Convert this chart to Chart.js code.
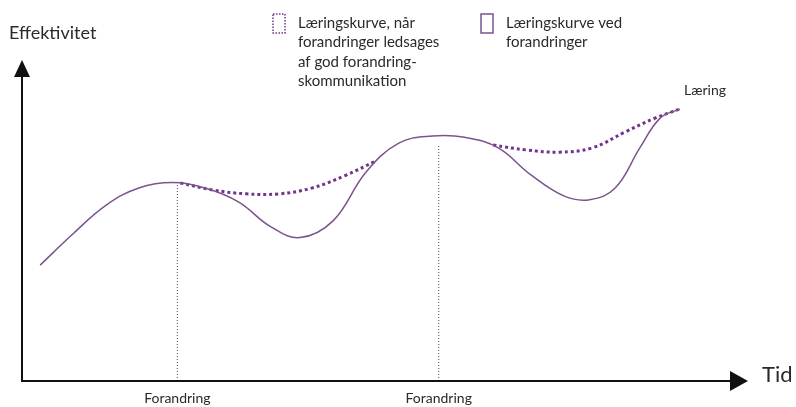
<!DOCTYPE html>
<html>
<head>
<meta charset="utf-8">
<script src="https://cdn.jsdelivr.net/npm/chart.js@4.4.0/dist/chart.umd.min.js"></script>
<style>
  html, body { margin: 0; padding: 0; background: #fff; }
  #wrap { width: 796px; height: 407px; position: relative; }
</style>
</head>
<body>
<div id="wrap"><canvas id="laeringChart"></canvas></div>
<script>
// tid (0-100) og effektivitet (0-100)
var solidX = [2.5, 7.0, 11.6, 16.1, 20.7, 25.2, 29.8, 34.3, 38.3, 42.8, 47.4, 51.9, 56.5, 61.0, 65.6, 70.1, 74.7, 78.2, 81.7, 85.1, 87.9, 90.6];
var solidY = [36.1, 45.8, 54.8, 60.1, 61.8, 60.1, 55.8, 48.0, 44.7, 49.8, 65.1, 74.1, 76.3, 75.9, 72.6, 64.2, 57.6, 56.5, 60.1, 72.6, 81.9, 84.7];

var dotted1X = [21.8, 26.3, 30.9, 35.4, 39.9, 44.5, 48.8];
var dotted1Y = [61.7, 59.5, 58.3, 58.3, 60.1, 64.0, 68.6];

var dotted2X = [64.9, 69.4, 74.0, 78.5, 83.1, 87.2, 90.6];
var dotted2Y = [73.5, 72.0, 71.3, 72.6, 77.6, 81.9, 84.7];

var changeX = [21.4, 57.4];
var changeTop = [61.7, 73.5];
var changeLabel = 'Forandring';

var legendGood = ['Læringskurve, når', 'forandringer ledsages', 'af god forandring-', 'skommunikation'];
var legendPlain = ['Læringskurve ved', 'forandringer'];

function toPoints(xs, ys) {
  var pts = [];
  for (var i in xs) {
    pts.push({ x: xs[i], y: ys[i] });
  }
  return pts;
}

var solidColor = "rgb(122, 84, 142)";
var dotColor = "rgb(112, 52, 140)";
var textColor = "#2a2a2a";
var fontFam = "Lato, 'Open Sans', sans-serif";

var datasets = [];
for (var i in changeX) {
  datasets.push({
    label: changeLabel,
    data: [{ x: changeX[i], y: 0 }, { x: changeX[i], y: changeTop[i] }],
    borderColor: "rgb(90, 70, 100)",
    borderWidth: 1,
    borderDash: [1, 2],
    pointRadius: 0,
    showLine: true,
    tension: 0
  });
}
datasets.push({
  label: 'Læringskurve ved forandringer',
  data: toPoints(solidX, solidY),
  borderColor: solidColor,
  borderWidth: 1.5,
  pointRadius: 0,
  showLine: true,
  tension: 0.4
});
datasets.push({
  label: 'Læringskurve, når forandringer ledsages af god forandringskommunikation',
  data: toPoints(dotted1X, dotted1Y),
  borderColor: dotColor,
  borderWidth: 3,
  borderDash: [3, 3],
  borderCapStyle: 'butt',
  pointRadius: 0,
  showLine: true,
  tension: 0.4
});
datasets.push({
  label: 'Læringskurve, når forandringer ledsages af god forandringskommunikation',
  data: toPoints(dotted2X, dotted2Y),
  borderColor: dotColor,
  borderWidth: 3,
  borderDash: [3, 3],
  borderCapStyle: 'butt',
  pointRadius: 0,
  showLine: true,
  tension: 0.4
});

// akser med pile, tekster og forklaring
var diagramDecor = {
  id: 'diagramDecor',
  afterDraw: function (chart) {
    var ctx = chart.ctx;
    var a = chart.chartArea;
    ctx.save();
    ctx.strokeStyle = "#111";
    ctx.fillStyle = "#111";
    ctx.lineWidth = 2;
    // y-akse
    ctx.beginPath();
    ctx.moveTo(a.left, a.bottom + 1);
    ctx.lineTo(a.left, a.top + 12);
    ctx.stroke();
    ctx.beginPath();
    ctx.moveTo(a.left, a.top);
    ctx.lineTo(a.left - 8, a.top + 17);
    ctx.lineTo(a.left + 8, a.top + 17);
    ctx.closePath();
    ctx.fill();
    // x-akse
    ctx.beginPath();
    ctx.moveTo(a.left - 1, a.bottom);
    ctx.lineTo(a.right - 12, a.bottom);
    ctx.stroke();
    ctx.beginPath();
    ctx.moveTo(a.right, a.bottom);
    ctx.lineTo(a.right - 18, a.bottom - 10);
    ctx.lineTo(a.right - 18, a.bottom + 10);
    ctx.closePath();
    ctx.fill();

    ctx.fillStyle = textColor;
    ctx.textBaseline = 'middle';
    ctx.textAlign = 'left';
    ctx.font = "18px " + fontFam;
    ctx.fillText('Effektivitet', 9, 33);
    ctx.font = "22px " + fontFam;
    ctx.fillText('Tid', 762, 375);
    ctx.font = "14px " + fontFam;
    ctx.fillText('Læring', 684, 90);

    // forklaring
    ctx.font = "15px " + fontFam;
    for (var i in legendGood) {
      ctx.fillText(legendGood[i], 298, 23 + i * 19.5);
    }
    for (var j in legendPlain) {
      ctx.fillText(legendPlain[j], 506, 23 + j * 19.5);
    }
    ctx.lineWidth = 1.5;
    ctx.setLineDash([1.5, 1.5]);
    ctx.strokeStyle = dotColor;
    ctx.strokeRect(273, 14, 12, 19);
    ctx.setLineDash([]);
    ctx.strokeStyle = solidColor;
    ctx.strokeRect(481, 14, 12, 19);
    ctx.restore();
  }
};

var graphTarget = document.getElementById('laeringChart');

window.learnGraph = new Chart(graphTarget, {
  type: 'scatter',
  data: { datasets: datasets },
  options: {
    responsive: true,
    maintainAspectRatio: false,
    animation: false,
    layout: {
      padding: { left: 22, right: 48, top: 60, bottom: 0 }
    },
    scales: {
      x: {
        type: 'linear',
        min: 0,
        max: 100,
        grid: { display: false, drawTicks: false },
        border: { display: false },
        afterBuildTicks: function (scale) {
          scale.ticks = changeX.map(function (v) { return { value: v }; });
        },
        afterFit: function (scale) {
          scale.height = 26;
        },
        ticks: {
          padding: 9,
          autoSkip: false,
          maxRotation: 0,
          color: textColor,
          font: { size: 14, family: fontFam },
          callback: function () { return changeLabel; }
        }
      },
      y: {
        display: false,
        min: 0,
        max: 100
      }
    },
    plugins: {
      legend: { display: false },
      tooltip: { enabled: false }
    }
  },
  plugins: [diagramDecor]
});
</script>
</body>
</html>
